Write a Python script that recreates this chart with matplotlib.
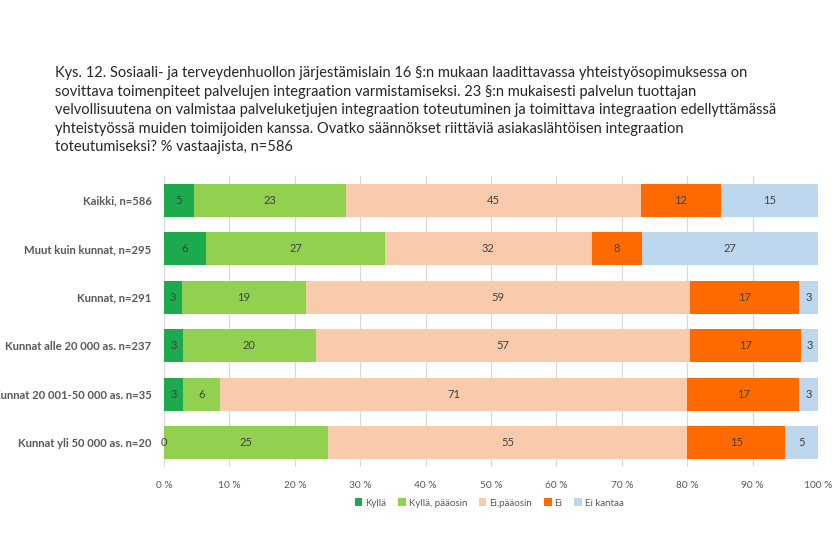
import matplotlib
matplotlib.use("Agg")
import matplotlib.pyplot as plt
import numpy as np

plt.rcParams['font.family'] = ['Lato', 'DejaVu Sans']

categories = ["Kaikki, n=586", "Muut kuin kunnat, n=295", "Kunnat, n=291",
              "Kunnat alle 20 000 as. n=237", "Kunnat 20 001-50 000 as. n=35",
              "Kunnat yli 50 000 as. n=20"]
series_names = ["Kyllä", "Kyllä, pääosin", "Ei,pääosin", "Ei", "Ei kantaa"]
kylla         = [4.6, 6.4, 2.8, 2.9, 2.9, 0.0]
kylla_paaosin = [23.2, 27.4, 18.9, 20.3, 5.7, 25.0]
ei_paaosin    = [45.1, 31.6, 58.7, 57.3, 71.4, 55.0]
ei            = [12.2, 7.7, 16.7, 16.9, 17.1, 15.0]
ei_kantaa     = [14.9, 26.9, 2.9, 2.6, 2.9, 5.0]
labels = [
    [5, 6, 3, 3, 3, 0],
    [23, 27, 19, 20, 6, 25],
    [45, 32, 59, 57, 71, 55],
    [12, 8, 17, 17, 17, 15],
    [15, 27, 3, 3, 3, 5],
]
colors = ["#1DAA4E", "#92D050", "#F8CBAD", "#FF6A00", "#BDD7EE"]
xticks = [0, 10, 20, 30, 40, 50, 60, 70, 80, 90, 100]
xtick_labels = [f"{v} %" for v in xticks]

title = ("Kys. 12. Sosiaali- ja terveydenhuollon järjestämislain 16 §:n mukaan laadittavassa yhteistyösopimuksessa on\n"
         "sovittava toimenpiteet palvelujen integraation varmistamiseksi. 23 §:n mukaisesti palvelun tuottajan\n"
         "velvollisuutena on valmistaa palveluketjujen integraation toteutuminen ja toimittava integraation edellyttämässä\n"
         "yhteistyössä muiden toimijoiden kanssa. Ovatko säännökset riittäviä asiakaslähtöisen integraation\n"
         "toteutumiseksi? % vastaajista, n=586")

fig = plt.figure(figsize=(8.32, 5.52), dpi=100)
ax = fig.add_axes([164/832, 1-467/552, (818-164)/832, (467-176)/552])

data = [kylla, kylla_paaosin, ei_paaosin, ei, ei_kantaa]
y = np.arange(len(categories))
left = np.zeros(len(categories))
for i, (vals, col, name) in enumerate(zip(data, colors, series_names)):
    vals = np.array(vals)
    ax.barh(y, vals, left=left, height=0.68, color=col, label=name, zorder=3)
    for j in range(len(categories)):
        cx = left[j] + vals[j] / 2
        ax.text(cx, y[j], str(labels[i][j]), ha='center', va='center',
                fontsize=8, color='#404040', zorder=4)
    left += vals

ax.set_xlim(0, 100)
ax.set_ylim(len(categories) - 0.5, -0.5)
ax.set_yticks(y)
ax.set_yticklabels(categories, fontsize=8.1, fontweight='bold', color='#595959')
ax.set_xticks(xticks)
ax.set_xticklabels(xtick_labels, fontsize=7.3, color='#595959')
ax.tick_params(axis='y', length=0, pad=9)
ax.tick_params(axis='x', length=0, pad=10)
ax.grid(axis='x', color='#D9D9D9', linewidth=0.8, zorder=0)
for s in ax.spines.values():
    s.set_visible(False)

fig.text(55/832, 1-66/552, title, ha='left', va='top', fontsize=10.5,
         color='#262626', linespacing=1.42)

handles, lbls = ax.get_legend_handles_labels()
fig.legend(handles, lbls, loc='center', bbox_to_anchor=(489/832, 1-503/552),
           ncol=5, frameon=False, fontsize=7, handlelength=0.8, handleheight=0.8,
           handletextpad=0.3, columnspacing=1.2, labelcolor='#595959')

fig.savefig("out.png", dpi=100)
